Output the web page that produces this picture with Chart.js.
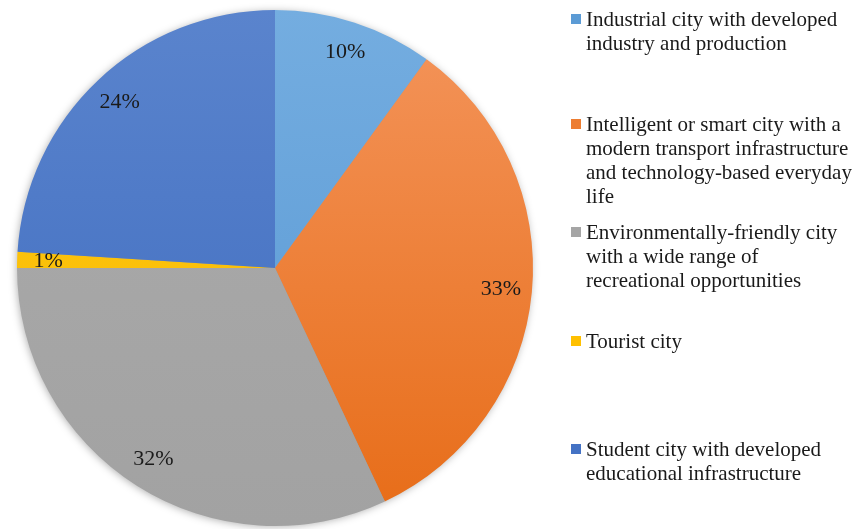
<!DOCTYPE html>
<html>
<head>
<meta charset="utf-8">
<script src="https://cdn.jsdelivr.net/npm/chart.js@4/dist/chart.umd.min.js"></script>
<style>
  html, body { margin: 0; padding: 0; background: #fff; }
  #wrap { position: relative; width: 857px; height: 529px; overflow: hidden; }
  #legend { position: absolute; left: 0; top: 0; }
  .item { position: absolute; left: 571px; width: 290px; font-family: "Liberation Serif", "Times New Roman", serif;
          font-size: 21px; line-height: 24px; color: #1a1a1a; padding-left: 15px; box-sizing: border-box;
          white-space: nowrap; }
  .item i { position: absolute; left: 0; top: 7px; width: 10px; height: 10px; }
</style>
</head>
<body>
<div id="wrap">
  <canvas id="pie" width="857" height="529"></canvas>
  <div id="legend"></div>
</div>
<script>
const categories = [
  "Industrial city with developed industry and production",
  "Intelligent or smart city with a modern transport infrastructure and technology-based everyday life",
  "Environmentally-friendly city with a wide range of recreational opportunities",
  "Tourist city",
  "Student city with developed educational infrastructure"
];
const values = [10, 33, 32, 1, 24];
const legendLines = [
  ["Industrial city with developed", "industry and production"],
  ["Intelligent or smart city with a", "modern transport infrastructure", "and technology-based everyday", "life"],
  ["Environmentally-friendly city", "with a wide range of", "recreational opportunities"],
  ["Tourist city"],
  ["Student city with developed", "educational infrastructure"]
];
const topColors = ["#74ade0", "#f4955c", "#ababab", "#ffc814", "#5a84cd"];
const bottomColors = ["#5797d3", "#e76c17", "#a2a2a2", "#f7b900", "#3e6bbf"];
const swatches = ["#5b9bd5", "#ed7d31", "#a5a5a5", "#ffc000", "#4472c4"];
const legendTops = [7, 112, 220, 329, 437];

const legend = document.getElementById("legend");
legendLines.forEach((lines, i) => {
  const d = document.createElement("div");
  d.className = "item";
  d.style.top = legendTops[i] + "px";
  d.title = categories[i];
  d.innerHTML = '<i style="background:' + swatches[i] + '"></i>' + lines.join("<br>");
  legend.appendChild(d);
});

const shadowPlugin = {
  id: "shadow",
  beforeDatasetsDraw(chart) {
    const arc = chart.getDatasetMeta(0).data[0];
    if (!arc) return;
    const ctx = chart.ctx;
    ctx.save();
    ctx.shadowColor = "rgba(0,0,0,0.35)";
    ctx.shadowBlur = 9;
    ctx.shadowOffsetX = -1;
    ctx.shadowOffsetY = 1;
    ctx.fillStyle = "#999";
    ctx.beginPath();
    ctx.arc(arc.x, arc.y, arc.outerRadius - 1, 0, Math.PI * 2);
    ctx.fill();
    ctx.restore();
  }
};

const labelPlugin = {
  id: "pctLabels",
  afterDatasetsDraw(chart) {
    const ctx = chart.ctx;
    ctx.save();
    ctx.font = '22px "Liberation Serif", "Times New Roman", serif';
    ctx.fillStyle = "#1a1a1a";
    ctx.textAlign = "center";
    ctx.textBaseline = "middle";
    chart.getDatasetMeta(0).data.forEach((arc, i) => {
      const mid = (arc.startAngle + arc.endAngle) / 2;
      const r = arc.outerRadius * 0.88;
      ctx.fillText(values[i] + "%", arc.x + Math.cos(mid) * r, arc.y + Math.sin(mid) * r);
    });
    ctx.restore();
  }
};

new Chart(document.getElementById("pie"), {
  type: "pie",
  data: {
    labels: categories,
    datasets: [{
      data: values,
      borderWidth: 0,
      backgroundColor(context) {
        const area = context.chart.chartArea;
        if (!area) return swatches[context.dataIndex];
        const g = context.chart.ctx.createLinearGradient(0, area.top, 0, area.bottom);
        g.addColorStop(0, topColors[context.dataIndex]);
        g.addColorStop(1, bottomColors[context.dataIndex]);
        return g;
      }
    }]
  },
  options: {
    responsive: false,
    animation: false,
    layout: { padding: { left: 17, top: 10, right: 324, bottom: 3 } },
    plugins: {
      legend: { display: false },
      tooltip: { enabled: false }
    }
  },
  plugins: [shadowPlugin, labelPlugin]
});
</script>
</body>
</html>
